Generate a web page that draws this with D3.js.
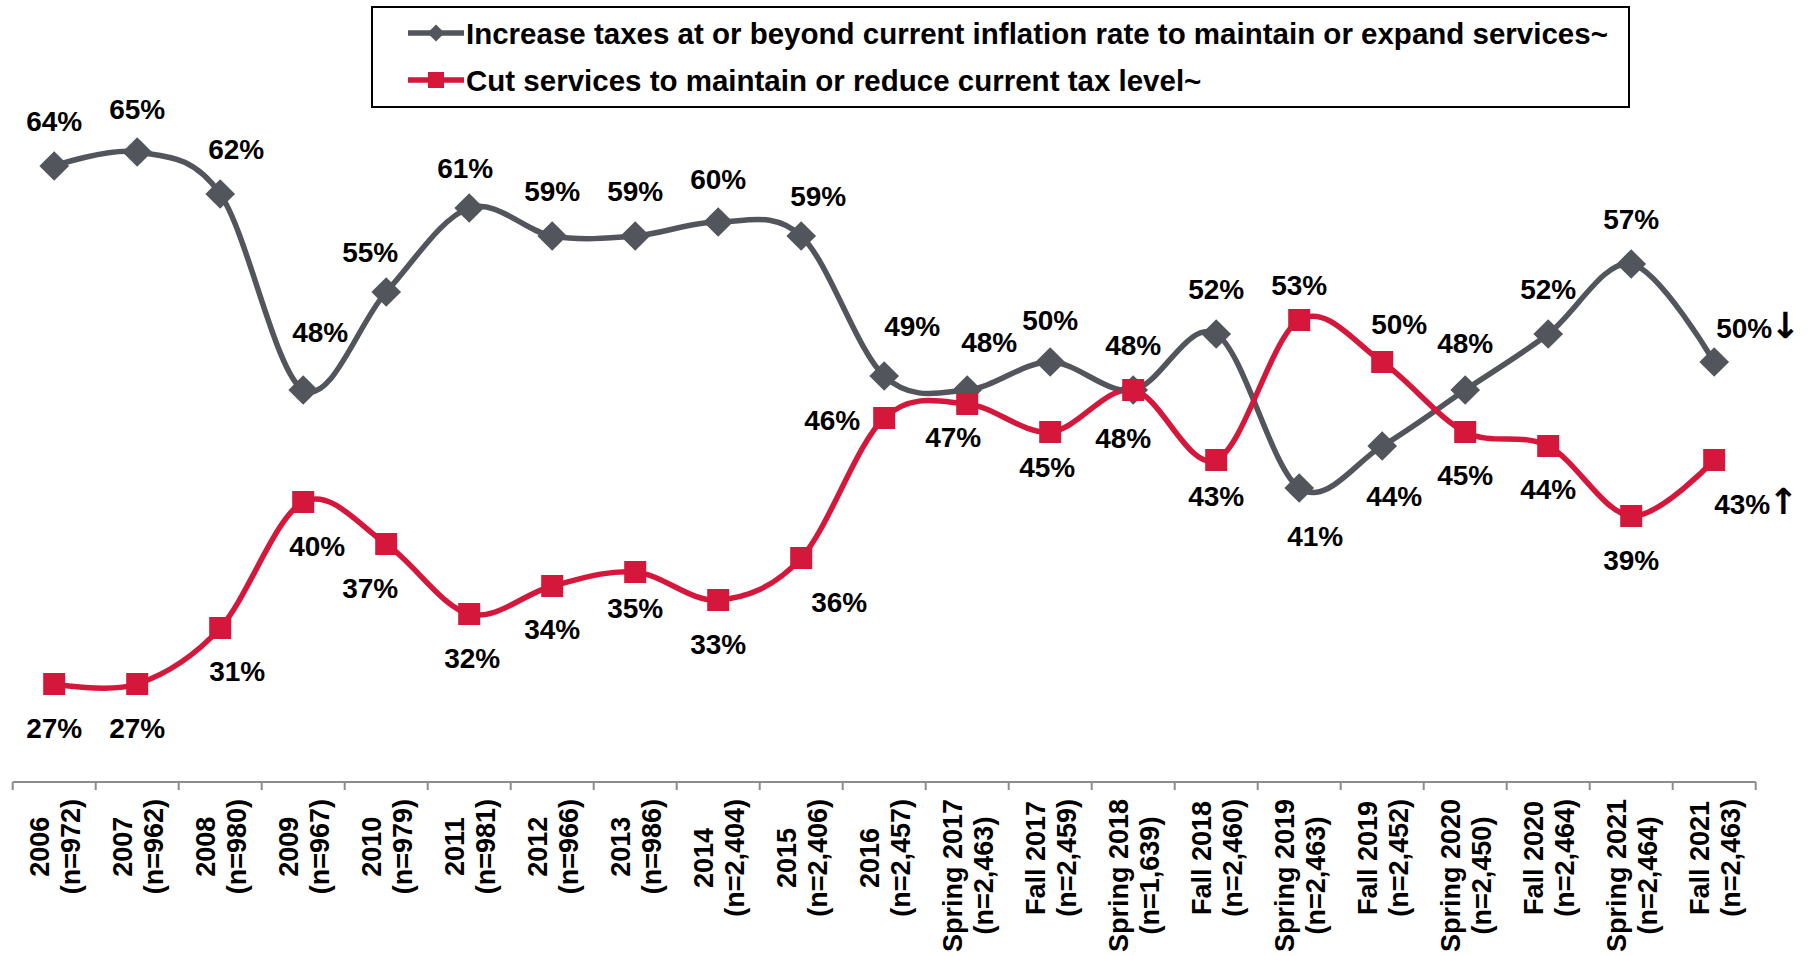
<!DOCTYPE html>
<html>
<head>
<meta charset="utf-8">
<script src="https://cdn.jsdelivr.net/npm/d3@7"></script>
<style>
body { margin: 0; background: #fff; }
text { font-family: "Liberation Sans", Arial, sans-serif; font-weight: bold; fill: #000; }
</style>
</head>
<body>
<div id="chart"></div>
<script>
// Taxes vs services survey trend
var w = 1808, h = 956;

var periods = ["2006", "2007", "2008", "2009", "2010", "2011", "2012", "2013", "2014", "2015", "2016",
  "Spring 2017", "Fall 2017", "Spring 2018", "Fall 2018", "Spring 2019", "Fall 2019",
  "Spring 2020", "Fall 2020", "Spring 2021", "Fall 2021"];
var sampleSizes = [972, 962, 980, 967, 979, 981, 966, 986, 2404, 2406, 2457,
  2463, 2459, 1639, 2460, 2463, 2452, 2450, 2464, 2464, 2463];
var increaseTaxes = [64, 65, 62, 48, 55, 61, 59, 59, 60, 59, 49, 48, 50, 48, 52, 41, 44, 48, 52, 57, 50];
var cutServices = [27, 27, 31, 40, 37, 32, 34, 35, 33, 36, 46, 47, 45, 48, 43, 53, 50, 45, 44, 39, 43];
var seriesNames = ["Increase taxes at or beyond current inflation rate to maintain or expand services~",
  "Cut services to maintain or reduce current tax level~"];
var lastChange = ["\u2193", "\u2191"];

// label nudges (dx, dy) per point
var grayNudge = [[0,-45],[0,-43],[16,-45],[17,-58],[-16,-40],[-4,-40],[0,-45],[0,-45],[0,-43],[17,-40],
  [28,-50],[22,-48],[0,-42],[0,-45],[0,-45],[16,48],[12,50],[0,-47],[0,-45],[0,-45],[2,-34]];
var redNudge = [[0,44],[0,44],[17,43],[14,44],[-16,44],[3,44],[0,43],[0,36],[0,44],[38,44],
  [-52,2],[-14,33],[-3,35],[-10,48],[0,36],[0,-35],[17,-38],[0,43],[0,43],[0,44],[0,44]];

var gray = "#52555c", red = "#d4173a";

var svg = d3.select("#chart").append("svg")
  .attr("width", w).attr("height", h);

var x = d3.scaleBand().domain(periods).range([12.7, 1755.7]);
var y = d3.scaleLinear().domain([20, 70]).range([782, 82]);
var cx = function(i) { return x(periods[i]) + x.bandwidth() / 2; };

// axis
var axis = svg.append("g");
axis.append("line").attr("x1", x.range()[0]).attr("x2", x.range()[1])
  .attr("y1", y(20)).attr("y2", y(20)).attr("stroke", "#8c8c8c").attr("stroke-width", 2);
var bounds = periods.map(function(p) { return x(p); }).concat([x.range()[1]]);
axis.selectAll("line.tick").data(bounds).enter().append("line")
  .attr("class", "tick")
  .attr("x1", function(d) { return d; }).attr("x2", function(d) { return d; })
  .attr("y1", y(20)).attr("y2", y(20) + 8)
  .attr("stroke", "#8c8c8c").attr("stroke-width", 2);

var fmt = d3.format(",");
periods.forEach(function(p, i) {
  var lines = [p, "(n=" + fmt(sampleSizes[i]) + ")"];
  var g = axis.append("g");
  var t = lines.map(function(s, j) {
    return g.append("text").attr("font-size", 27).attr("text-anchor", "middle").text(s);
  });
  var maxW = d3.max(t, function(s) { return s.node().getComputedTextLength(); });
  var yc = 799 + maxW / 2;
  t[0].attr("transform", "translate(" + (cx(i) - 5) + "," + yc + ") rotate(-90)");
  t[1].attr("transform", "translate(" + (cx(i) + 26) + "," + yc + ") rotate(-90)");
});

// lines
var line = d3.line()
  .x(function(d, i) { return cx(i); })
  .y(function(d) { return y(d); })
  .curve(d3.curveCardinal.tension(0));

svg.append("path").datum(increaseTaxes).attr("d", line)
  .attr("fill", "none").attr("stroke", gray).attr("stroke-width", 5.5);
svg.append("path").datum(cutServices).attr("d", line)
  .attr("fill", "none").attr("stroke", red).attr("stroke-width", 5.5);

// markers
svg.selectAll("rect.dia").data(increaseTaxes).enter().append("rect")
  .attr("class", "dia")
  .attr("x", -10.5).attr("y", -10.5).attr("width", 21).attr("height", 21)
  .attr("fill", gray)
  .attr("transform", function(d, i) { return "translate(" + cx(i) + "," + y(d) + ") rotate(45)"; });
svg.selectAll("rect.sq").data(cutServices).enter().append("rect")
  .attr("class", "sq")
  .attr("x", function(d, i) { return cx(i) - 11; })
  .attr("y", function(d) { return y(d) - 11; })
  .attr("width", 22).attr("height", 22)
  .attr("fill", red);

// data labels
function labels(data, nudge, arrow) {
  var n = data.length;
  svg.append("g").selectAll("text").data(data).enter().append("text")
    .attr("font-size", 28)
    .attr("text-anchor", function(d, i) { return i == n - 1 ? "start" : "middle"; })
    .attr("x", function(d, i) { return cx(i) + nudge[i][0]; })
    .attr("y", function(d, i) { return y(d) + nudge[i][1]; })
    .attr("dy", "0.36em")
    .text(function(d) { return d + "%"; })
    .filter(function(d, i) { return i == n - 1; })
    .append("tspan")
    .style("font-family", "'DejaVu Sans', sans-serif")
    .attr("font-size", 36)
    .attr("dx", -2)
    .text(arrow);
}
labels(increaseTaxes, grayNudge, lastChange[0]);
labels(cutServices, redNudge, lastChange[1]);

// legend
var leg = svg.append("g");
leg.append("rect").attr("x", 372).attr("y", 7).attr("width", 1257).attr("height", 100)
  .attr("fill", "#fff").attr("stroke", "#000").attr("stroke-width", 2);
[gray, red].forEach(function(c, k) {
  var ly = 33 + k * 47;
  leg.append("line").attr("x1", 408).attr("x2", 464).attr("y1", ly).attr("y2", ly)
    .attr("stroke", c).attr("stroke-width", 5.5);
  if (k == 0) {
    leg.append("rect").attr("x", -6).attr("y", -6).attr("width", 12).attr("height", 12)
      .attr("fill", c).attr("transform", "translate(436," + ly + ") rotate(45)");
  } else {
    leg.append("rect").attr("x", 428).attr("y", ly - 8).attr("width", 16).attr("height", 16)
      .attr("fill", c);
  }
  leg.append("text").attr("x", 466).attr("y", ly).attr("dy", "0.36em")
    .attr("font-size", 29.5).text(seriesNames[k]);
});
</script>
</body>
</html>
